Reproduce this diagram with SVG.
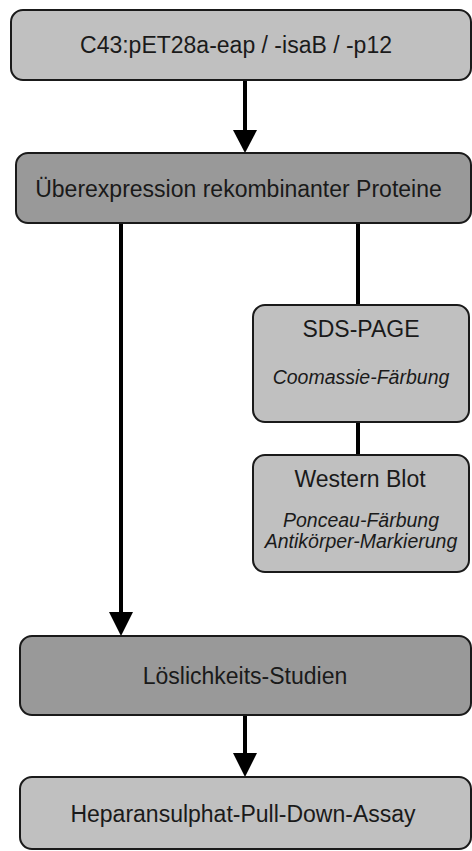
<svg xmlns="http://www.w3.org/2000/svg" width="472" height="851" viewBox="0 0 472 851">
  <style>
    .box { stroke: #1a1a1a; stroke-width: 2; }
    .light { fill: #c0c0c0; }
    .dark { fill: #999999; }
    .t { font-family: "Liberation Sans", Arial, sans-serif; font-size: 23px; fill: #1a1a1a; text-anchor: middle; }
    .i { font-family: "Liberation Sans", Arial, sans-serif; font-size: 19.5px; font-style: italic; fill: #1a1a1a; text-anchor: middle; }
    .ln { stroke: #000; stroke-width: 4; fill: none; }
    .hd { fill: #000; }
  </style>
  <rect width="472" height="851" fill="#ffffff"/>
  <g id="connectors">
    <line class="ln" x1="245" y1="80" x2="245" y2="132"/>
    <polygon class="hd" points="233,130 257,130 245,153"/>
    <line class="ln" x1="121" y1="223" x2="121" y2="614"/>
    <polygon class="hd" points="109,612 133,612 121,636"/>
    <line class="ln" x1="358" y1="223" x2="358" y2="305"/>
    <line class="ln" x1="358" y1="422" x2="358" y2="455"/>
    <line class="ln" x1="245" y1="715" x2="245" y2="755"/>
    <polygon class="hd" points="233,753 257,753 245,777"/>
  </g>
  <g id="node-c43">
    <rect class="box light" x="11" y="10" width="460" height="70" rx="12"/>
    <text class="t" x="236" y="53">C43:pET28a-eap / -isaB / -p12</text>
  </g>
  <g id="node-ueberexpression">
    <rect class="box dark" x="16" y="153" width="455" height="70" rx="12"/>
    <text class="t" x="238.5" y="197">Überexpression rekombinanter Proteine</text>
  </g>
  <g id="node-sds">
    <rect class="box light" x="253" y="305" width="216" height="117" rx="12"/>
    <text class="t" x="361" y="337">SDS-PAGE</text>
    <text class="i" x="361" y="384">Coomassie-Färbung</text>
  </g>
  <g id="node-western">
    <rect class="box light" x="253" y="455" width="216" height="117" rx="12"/>
    <text class="t" x="360" y="487">Western Blot</text>
    <text class="i" x="361" y="527">Ponceau-Färbung</text>
    <text class="i" x="361" y="548">Antikörper-Markierung</text>
  </g>
  <g id="node-loeslichkeit">
    <rect class="box dark" x="20" y="636" width="451" height="79" rx="12"/>
    <text class="t" x="245" y="684">Löslichkeits-Studien</text>
  </g>
  <g id="node-heparansulphat">
    <rect class="box light" x="20" y="777" width="451" height="72" rx="12"/>
    <text class="t" x="243" y="822">Heparansulphat-Pull-Down-Assay</text>
  </g>
</svg>
